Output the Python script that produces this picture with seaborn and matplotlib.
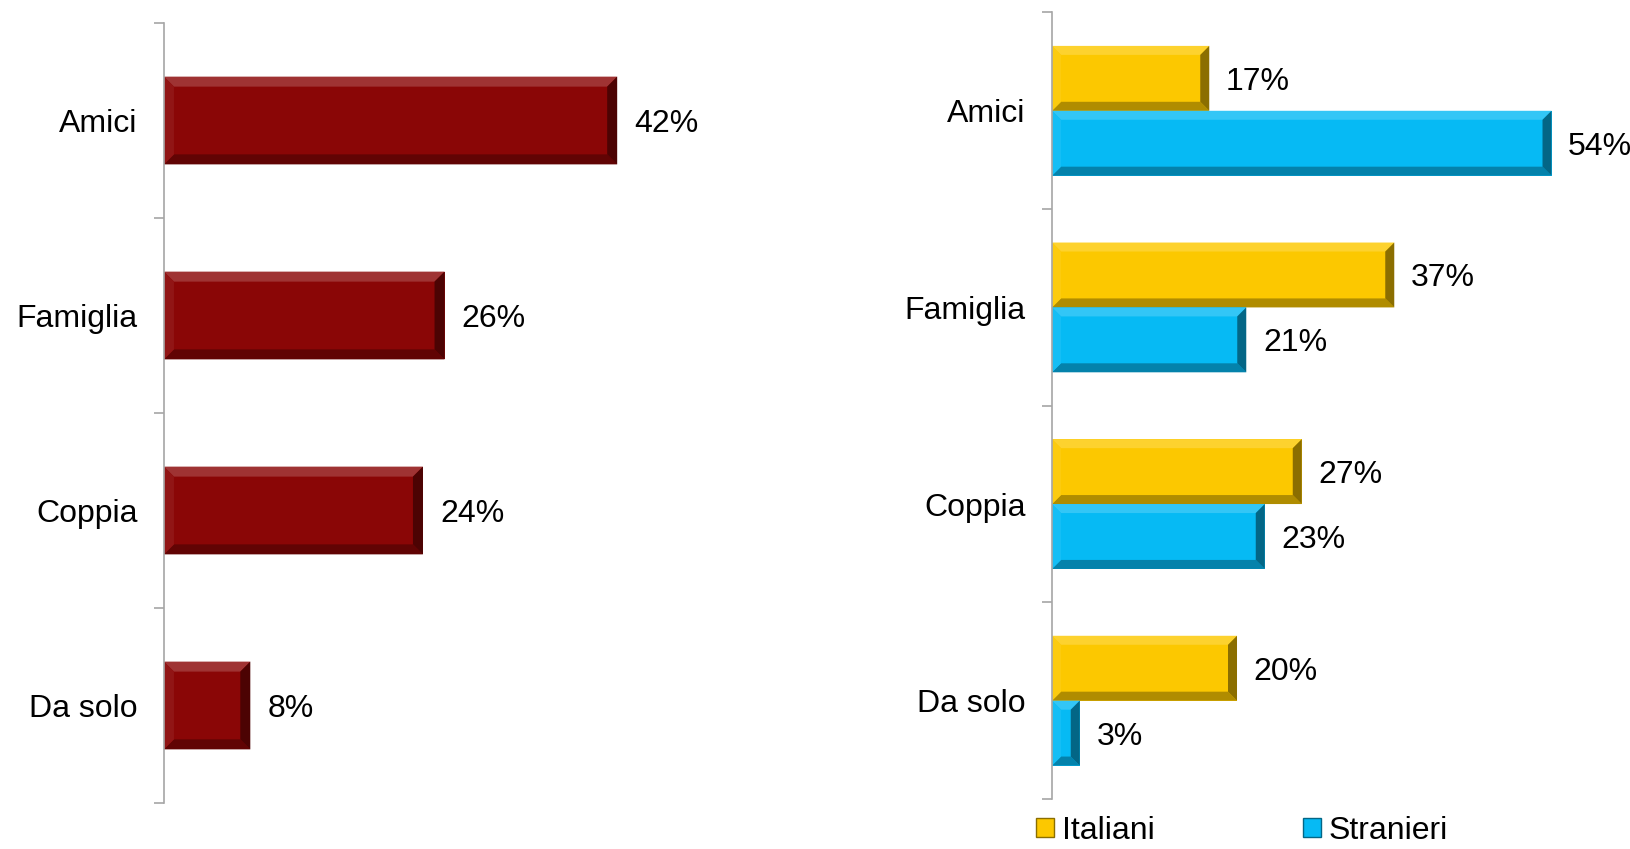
import matplotlib
matplotlib.use("Agg")
import matplotlib.pyplot as plt
import matplotlib.colors as mcolors
import numpy as np
import pandas as pd
import seaborn as sns
from matplotlib.patches import Polygon
from matplotlib.ticker import FixedLocator

categories = ["Amici", "Famiglia", "Coppia", "Da solo"]
totale = [42, 26, 24, 8]
italiani = [17, 37, 27, 20]
stranieri = [54, 21, 23, 3]
gruppi = ["Italiani", "Stranieri"]

RED = "#8a0606"
GOLD = "#fcc800"
BLUE = "#06baf4"
AXIS_GRAY = "#a6a6a6"
FS = 23


def shade(color, f):
    rgb = np.array(mcolors.to_rgb(color))
    if f > 0:
        rgb = rgb + (1 - rgb) * f
    else:
        rgb = rgb * (1 + f)
    return tuple(rgb)


def bevel(ax, patch, color, d=10):
    """Fake the Excel bevel look with four trapezoids around the bar edge."""
    x0, y0 = patch.get_x(), patch.get_y()
    x1, y1 = x0 + patch.get_width(), y0 + patch.get_height()
    (px0, py0), (px1, py1) = ax.transData.transform([(x0, y0), (x1, y1)])
    left, right = min(px0, px1), max(px0, px1)
    bot, top = min(py0, py1), max(py0, py1)
    dd = min(d, (right - left) / 2, (top - bot) / 2)
    faces = [
        ([(left, top), (right, top), (right - dd, top - dd), (left + dd, top - dd)], 0.18),
        ([(left, bot), (right, bot), (right - dd, bot + dd), (left + dd, bot + dd)], -0.3),
        ([(left, bot), (left, top), (left + dd, top - dd), (left + dd, bot + dd)], 0.06),
        ([(right, bot), (right, top), (right - dd, top - dd), (right - dd, bot + dd)], -0.45),
    ]
    inv = ax.transData.inverted()
    for pts, f in faces:
        ax.add_patch(Polygon(inv.transform(pts), closed=True, facecolor=shade(color, f),
                             edgecolor="none", zorder=patch.get_zorder() + 0.1))


sns.set_theme(style="white")
plt.rcParams["font.family"] = ["Liberation Sans", "DejaVu Sans"]
plt.rcParams["text.color"] = "black"
plt.rcParams["ytick.labelcolor"] = "black"

fig = plt.figure(figsize=(16.3, 8.49), dpi=100)
ax_left = fig.add_axes([0.1006, 0.0542, 0.331, 0.9187])
ax_right = fig.add_axes([0.6454, 0.0589, 0.3405, 0.9264])

# left chart: all respondents
df_tot = pd.DataFrame({"categoria": categories, "valore": totale})
sns.barplot(data=df_tot, x="valore", y="categoria", orient="h", color=RED,
            saturation=1, width=0.45, edgecolor="none", linewidth=0, ax=ax_left)
ax_left.set_xlim(0, 50)

# right chart: italiani vs stranieri
df_grp = pd.DataFrame({"categoria": categories, "Italiani": italiani, "Stranieri": stranieri})
df_long = df_grp.melt(id_vars="categoria", var_name="gruppo", value_name="valore")
sns.barplot(data=df_long, x="valore", y="categoria", hue="gruppo", orient="h",
            palette=[GOLD, BLUE], saturation=1, width=0.66, edgecolor="none",
            linewidth=0, ax=ax_right, legend=False)
ax_right.set_xlim(0, 60)

for ax in (ax_left, ax_right):
    ax.set_ylim(3.5, -0.5)
    ax.set_xlabel("")
    ax.set_ylabel("")
    ax.set_xticks([])
    for side in ("top", "right", "bottom"):
        ax.spines[side].set_visible(False)
    ax.spines["left"].set_color(AXIS_GRAY)
    ax.spines["left"].set_linewidth(1.2)
    ax.yaxis.set_minor_locator(FixedLocator([-0.5, 0.5, 1.5, 2.5, 3.5]))
    ax.tick_params(axis="y", which="major", length=0, pad=19, labelsize=FS)
    ax.tick_params(axis="y", which="minor", length=7, width=1.2, color=AXIS_GRAY, left=True)

for p, v in zip(ax_left.patches[:len(totale)], totale):
    bevel(ax_left, p, RED)
    ax_left.text(p.get_x() + p.get_width() + 1.6, p.get_y() + p.get_height() / 2,
                 f"{v}%", va="center_baseline", ha="left", fontsize=FS)

for container, vals, col in zip(ax_right.containers, [italiani, stranieri], [GOLD, BLUE]):
    for p, v in zip(container, vals):
        bevel(ax_right, p, col, d=9)
        ax_right.text(p.get_x() + p.get_width() + 1.8, p.get_y() + p.get_height() / 2,
                      f"{v}%", va="center_baseline", ha="left", fontsize=FS)

handles = [plt.Rectangle((0, 0), 1, 1, facecolor=c, edgecolor=shade(c, -0.45))
           for c in [GOLD, BLUE]]
fig.legend(handles, gruppi, loc="lower left", bbox_to_anchor=(0.618, -0.03), ncol=2,
           frameon=False, fontsize=FS, handlelength=0.55, handleheight=0.55,
           handletextpad=0.25, columnspacing=4.65)

fig.savefig("out.png", dpi=100)
